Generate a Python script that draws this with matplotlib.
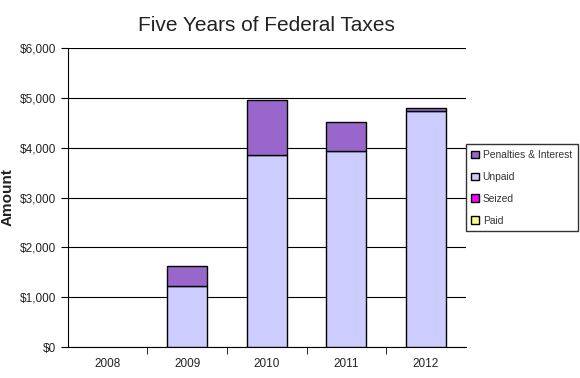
import numpy as np
import matplotlib
matplotlib.use("Agg")
import matplotlib.pyplot as plt
from matplotlib.ticker import FuncFormatter

plt.rcParams['font.family'] = ['Liberation Sans', 'DejaVu Sans']

years = ['2008', '2009', '2010', '2011', '2012']
paid = [0, 0, 0, 0, 0]
seized = [0, 0, 0, 0, 0]
unpaid = [0, 1225, 3855, 3935, 4740]
penalties = [0, 400, 1105, 585, 60]

fig = plt.figure(figsize=(5.8, 3.78), dpi=100)
ax = fig.add_axes([0.117, 0.082, 0.686, 0.791])

x = np.arange(len(years))
w = 0.5
bottom = np.zeros(len(years))
handles = []
for vals, col, lab in [(paid, '#FFFF80', 'Paid'),
                       (seized, '#FF00FF', 'Seized'),
                       (unpaid, '#CCCCFF', 'Unpaid'),
                       (penalties, '#9966CC', 'Penalties & Interest')]:
    lw = [1 if v > 0 else 0 for v in vals]
    h = ax.bar(x, vals, w, bottom=bottom, color=col, edgecolor='black',
               linewidth=lw, label=lab, zorder=3)
    handles.append(h)
    bottom += np.array(vals)

ax.set_xlim(-0.5, len(years) - 0.5)
ax.set_ylim(0, 6000)
ax.set_yticks(np.arange(0, 6001, 1000))
ax.yaxis.set_major_formatter(FuncFormatter(lambda v, p: '${:,.0f}'.format(v)))
ax.grid(axis='y', color='black', linewidth=0.8, zorder=0)
ax.set_xticks(x)
ax.set_xticklabels(years)
ax.set_xticks(np.arange(0.5, len(years) - 1, 1), minor=True)
ax.tick_params(axis='x', which='major', length=0, pad=8, labelsize=8.5, colors='#222222')
ax.tick_params(axis='x', which='minor', length=5, direction='out')
ax.tick_params(axis='y', length=5, direction='out', labelsize=8.5, labelcolor='#222222')
for s in ['top', 'right']:
    ax.spines[s].set_visible(False)

ax.set_ylabel('Amount', fontsize=11, fontweight='bold', color='#222222')
ax.yaxis.set_label_coords(-0.135, 0.5)
ax.set_title('Five Years of Federal Taxes', fontsize=15, pad=12, color='#222222')

leg = fig.legend([mh[0] for mh in handles[::-1]], [h.get_label() for h in handles[::-1]],
                 loc='upper left', bbox_to_anchor=(0.803, 0.618),
                 fontsize=7.4, frameon=True, fancybox=False, edgecolor='black',
                 handlelength=0.75, handleheight=0.75, labelspacing=1.15,
                 borderpad=0.55, handletextpad=0.35, borderaxespad=0)
leg.get_frame().set_linewidth(1)
for t in leg.get_texts():
    t.set_color('#333333')
for p in leg.get_patches():
    p.set_linewidth(1)

fig.savefig('out.png', dpi=100)
